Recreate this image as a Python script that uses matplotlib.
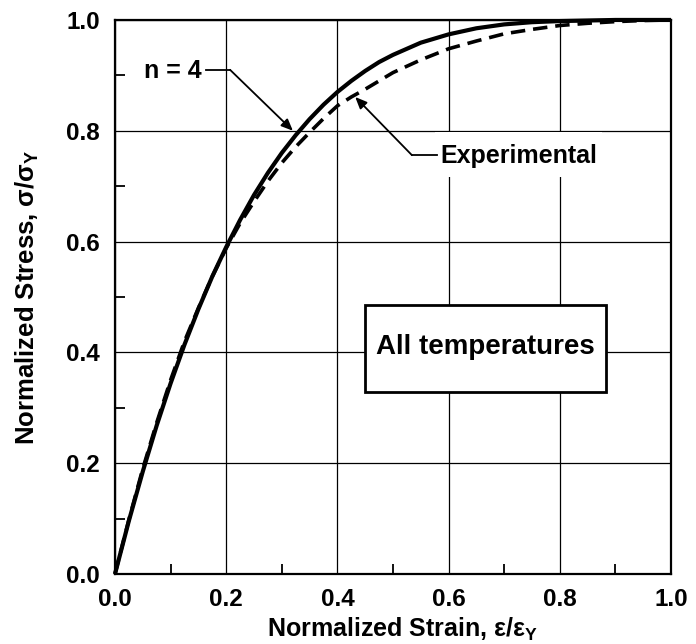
import numpy as np
import matplotlib
matplotlib.use("Agg")
import matplotlib.pyplot as plt
from matplotlib.patches import Rectangle
from matplotlib.ticker import MultipleLocator

plt.rcParams["font.family"] = ["Liberation Sans", "DejaVu Sans"]
plt.rcParams["font.weight"] = "bold"

# values
strain = [0.0, 0.025, 0.05, 0.075, 0.10, 0.125, 0.15, 0.175, 0.20, 0.225, 0.25,
          0.275, 0.30, 0.325, 0.35, 0.375, 0.40, 0.425, 0.45, 0.475, 0.50,
          0.55, 0.60, 0.65, 0.70, 0.75, 0.80, 0.85, 0.90, 0.95, 1.00]
stress_n4 = [0.0, 0.096, 0.185, 0.268, 0.344, 0.414, 0.478, 0.537, 0.590, 0.639, 0.684,
             0.724, 0.760, 0.792, 0.821, 0.847, 0.870, 0.890, 0.908, 0.924, 0.937,
             0.959, 0.974, 0.985, 0.992, 0.996, 0.998, 0.999, 1.0, 1.0, 1.0]
stress_exp = [0.0, 0.098, 0.190, 0.273, 0.350, 0.420, 0.480, 0.537, 0.588, 0.633, 0.672,
              0.709, 0.742, 0.771, 0.797, 0.822, 0.845, 0.861, 0.875, 0.890, 0.905,
              0.928, 0.948, 0.962, 0.975, 0.983, 0.990, 0.994, 0.997, 0.999, 1.0]

ticks = [0.0, 0.2, 0.4, 0.6, 0.8, 1.0]
fs = 17.5

fig = plt.figure(figsize=(6.96, 6.44), dpi=100)
ax = fig.add_axes([0.1652, 0.1087, 0.7989, 0.8603])

ax.plot(strain, stress_n4, c="black", lw=3.0, clip_on=False, zorder=4,
        solid_capstyle="butt")
ax.plot(strain, stress_exp, c="black", lw=2.6, dashes=(4, 2.2), clip_on=False,
        zorder=4)

ax.set_xlim(0, 1)
ax.set_ylim(0, 1)
ax.set_xticks(ticks)
ax.set_yticks(ticks)
ax.set_xticklabels([f"{t:.1f}" for t in ticks])
ax.set_yticklabels([f"{t:.1f}" for t in ticks])
ax.xaxis.set_minor_locator(MultipleLocator(0.1))
ax.yaxis.set_minor_locator(MultipleLocator(0.1))
ax.tick_params(which="major", length=0, labelsize=fs)
ax.tick_params(axis="x", which="major", pad=10)
ax.tick_params(axis="y", which="major", pad=11)
ax.tick_params(which="minor", direction="in", length=7, width=1.3)
ax.grid(True, which="major", color="black", lw=0.9)
for s in ax.spines.values():
    s.set_linewidth(1.6)

ax.set_xlabel(r"Normalized Strain, $\mathregular{\varepsilon/\varepsilon_Y}$",
              fontsize=18, fontweight="bold")
ax.xaxis.set_label_coords(0.516, -0.076)
ax.set_ylabel(r"Normalized Stress, $\mathregular{\sigma/\sigma_Y}$",
              fontsize=18.5, fontweight="bold", labelpad=18)

# label box
ax.add_patch(Rectangle((0.45, 0.329), 0.433, 0.157, facecolor="white",
                       edgecolor="black", lw=2, zorder=3))
ax.text(0.666, 0.41, "All temperatures", fontsize=20, fontweight="bold",
        ha="center", va="center", zorder=5)

# leaders
arrow = dict(arrowstyle="-|>,head_length=0.7,head_width=0.3", color="black",
             lw=1.3, shrinkA=0, shrinkB=0)
ax.text(0.155, 0.908, "n = 4", fontsize=18, fontweight="bold", ha="right",
        va="center", zorder=5)
ax.plot([0.163, 0.207], [0.910, 0.910], c="black", lw=1.3, zorder=5)
ax.annotate("", xy=(0.320, 0.800), xytext=(0.207, 0.910), arrowprops=arrow,
            zorder=5)

ax.add_patch(Rectangle((0.575, 0.717), 0.3, 0.08, facecolor="white",
                       edgecolor="none", zorder=2.5))
ax.text(0.585, 0.754, "Experimental", fontsize=18, fontweight="bold", ha="left",
        va="center", zorder=5)
ax.plot([0.534, 0.579], [0.756, 0.756], c="black", lw=1.3, zorder=5)
ax.annotate("", xy=(0.432, 0.861), xytext=(0.534, 0.756), arrowprops=arrow,
            zorder=5)

fig.savefig("out.png", dpi=100)
